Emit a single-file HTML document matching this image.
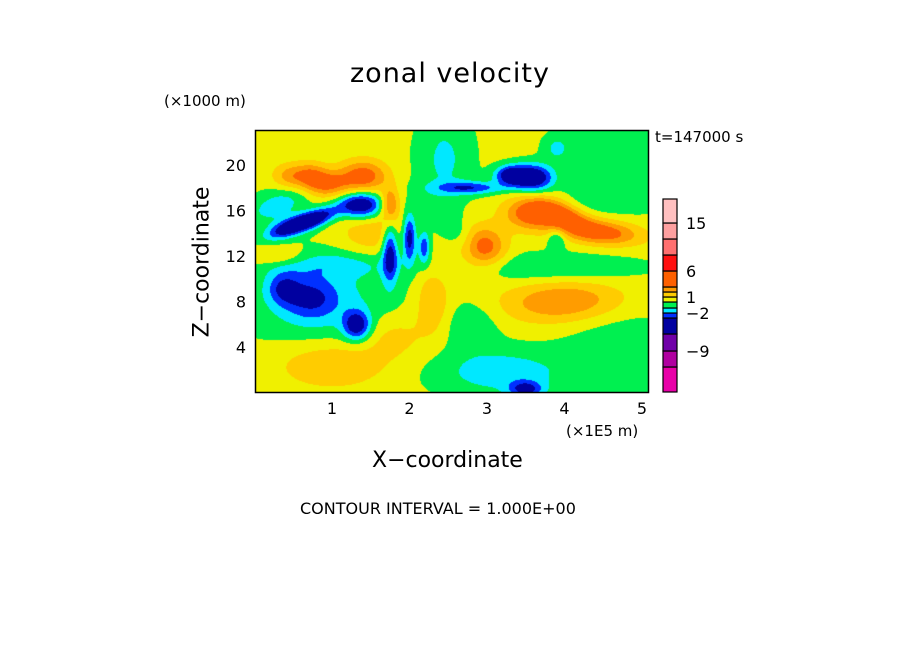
<!DOCTYPE html>
<html><head><meta charset="utf-8">
<style>
body{margin:0;background:#fff;}
#wrap{position:relative;width:904px;height:654px;overflow:hidden;font-family:"DejaVu Sans","Liberation Sans",sans-serif;color:#000;}
.t{position:absolute;white-space:nowrap;}
canvas{position:absolute;}
</style></head>
<body>
<div id="wrap">
<div class="t" style="left:350px;top:58px;font-size:27px;letter-spacing:1px;">zonal velocity</div>
<div class="t" style="left:164px;top:92px;font-size:15px;">(×1000 m)</div>
<div class="t" style="left:655px;top:128px;font-size:15px;">t=147000 s</div>
<div class="t" style="left:202px;top:262px;font-size:22px;transform:translate(-50%,-50%) rotate(-90deg);">Z−coordinate</div>
<div class="t" style="left:566px;top:422px;font-size:15px;">(×1E5 m)</div>
<div class="t" style="left:372px;top:448px;font-size:22px;">X−coordinate</div>
<div class="t" style="left:300px;top:499px;font-size:16px;">CONTOUR INTERVAL = 1.000E+00</div>
<canvas id="cv" width="393" height="262" style="left:255px;top:130px;"></canvas>
<svg id="ov" width="904" height="654" style="position:absolute;left:0;top:0;"></svg>
</div>
<script>
// data
const xTicks=[1,2,3,4,5];
const zTicks=[4,8,12,16,20];
const levels=[-12,-9,-6,-3,-2,-1,0,1,2,3,6,9,12,15];
const levelColors=["#e800a8","#b000a0","#7000a8","#0000a0","#0030ff","#00e8ff","#00f050","#f0f000","#ffcc00","#ff9c00","#ff6000","#ff1010","#ff7070","#ffa0a0","#ffc0c0"];
const cbLabels=["15","6","1","−2","−9"];
const cbLabelVals=[15,6,1,-2,-9];
const background=0.3;
const blobX=[1.37,0.45,0.78,1.4,0.93,0.72,0.44,0.3,0.72,0.37,1.32,0.9,1.0,1.75,2.0,2.19,1.75,3.59,3.3,2.78,3.6,4.46,4.0,2.95,4.0,3.17,3.5,4.8,4.7,2.45,3.9,3.9,1.0,0.3,1.8,3.8,2.8,1.5,2.3,2.55,4.6];
const blobZ=[16.5,14.5,15.3,19.0,18.3,19.1,19.0,16.5,8.3,9.2,5.9,8.0,2.5,12.3,13.6,12.8,16.5,18.9,19.1,18.0,15.8,14.1,15.5,12.7,8.0,1.8,0.3,21.5,3.0,20.5,13.5,21.5,11.3,12.0,5.0,11.0,6.0,14.0,8.0,14.5,17.0];
const blobAmp=[-5.0,-4.2,-4.2,3.5,3.0,2.5,2.0,-1.8,-2.4,-2.3,-4.0,-1.5,1.8,-4.0,-4.0,-3.0,3.2,-5.0,-4.2,-3.0,4.0,3.6,3.2,3.6,2.8,-1.9,-3.2,-1.1,-1.1,-1.5,-1.8,-1.4,-1.3,1.5,1.2,-1.3,-1.1,1.5,1.8,-1.0,-1.0];
const blobSX=[0.2,0.16,0.16,0.22,0.2,0.15,0.15,0.25,0.25,0.15,0.12,0.7,0.5,0.07,0.06,0.05,0.08,0.18,0.14,0.3,0.25,0.35,0.2,0.2,0.55,0.6,0.15,0.5,0.5,0.25,0.08,0.12,0.6,0.25,0.3,0.8,0.25,0.3,0.15,0.15,0.5];
const blobSZ=[0.8,0.7,0.7,1.0,0.8,0.8,0.8,1.2,1.3,1.0,0.9,3.0,1.5,1.8,1.5,1.0,1.0,0.8,0.6,0.4,1.0,0.8,0.9,1.3,1.3,1.5,0.5,2.5,3.5,3.0,0.6,0.8,0.8,0.6,1.5,0.9,1.5,1.5,2.0,2.0,1.0];
const blobTilt=[0,1.5,1.5,0,0,0,0,1,0,0,0,0,0,0,0,0,0,0,0,0,0,-1,-1,0,0.3,0,0,0,0,0,0,0,0,0,0,0,0,0,0,-1,0];

const L=255,T=130,W=393,H=262;
const xs=v=>254.5+v*77.5;
const zs=v=>392.5-v*11.37;
function colorFor(v){let i=0;while(i<levels.length&&v>=levels[i])i++;return levelColors[i];}
function hex(c){return [parseInt(c.substr(1,2),16),parseInt(c.substr(3,2),16),parseInt(c.substr(5,2),16)];}
const cv=document.getElementById('cv');const ctx=cv.getContext('2d');
const img=ctx.createImageData(W,H);
for(let py=0;py<H;py++){const z=(392.5-(T+py+0.5))/11.37;
 for(let px=0;px<W;px++){const x=(L+px+0.5-254.5)/77.5;
  let v=background;
  for(let k=0;k<blobX.length;k++){const dz=z-blobZ[k];
   const dx2=(x-blobX[k])-dz*blobTilt[k]*0.12;
   const e=(dx2*dx2)/(blobSX[k]*blobSX[k])+(dz*dz)/(blobSZ[k]*blobSZ[k]);
   if(e<20)v+=blobAmp[k]*Math.exp(-0.5*e);}
  const c=hex(colorFor(v));const o=(py*W+px)*4;
  img.data[o]=c[0];img.data[o+1]=c[1];img.data[o+2]=c[2];img.data[o+3]=255;}}
ctx.putImageData(img,0,0);

const NS='http://www.w3.org/2000/svg';const ov=document.getElementById('ov');
function mk(t,a){const e=document.createElementNS(NS,t);for(const k in a)e.setAttribute(k,a[k]);ov.appendChild(e);return e;}
const fr=mk('rect',{x:255.5,y:130.5,width:393,height:262,fill:'none',stroke:'#000','stroke-width':1.5});


xTicks.forEach(t=>{const e=mk('text',{x:xs(t),y:414,'text-anchor':'middle','font-size':16,'font-family':'DejaVu Sans, Liberation Sans, sans-serif'});e.textContent=t;

});
zTicks.forEach(t=>{const e=mk('text',{x:246,y:zs(t)+6,'text-anchor':'end','font-size':16,'font-family':'DejaVu Sans, Liberation Sans, sans-serif'});e.textContent=t;

});
// colorbar
let y=392;
const segs=[];
const hs=[25,16,17,16,5,5,6,5,5,5,16,16,16,16,24];
for(let i=0;i<levelColors.length;i++){const h=hs[i];const r=mk('rect',{x:663,y:y-h,width:14,height:h,fill:levelColors[i],stroke:'#000','stroke-width':1.2});


segs.push([levels[i-1],y-h,y]);y-=h;}
function cbY(v){for(let i=1;i<segs.length;i++){if(segs[i][0]===v)return segs[i][2];}return 300;}
cbLabels.forEach((l,i)=>{const e=mk('text',{x:686,y:cbY(cbLabelVals[i])+6,'font-size':16,'font-family':'DejaVu Sans, Liberation Sans, sans-serif'});e.textContent=l;

});
</script>
</body></html>
